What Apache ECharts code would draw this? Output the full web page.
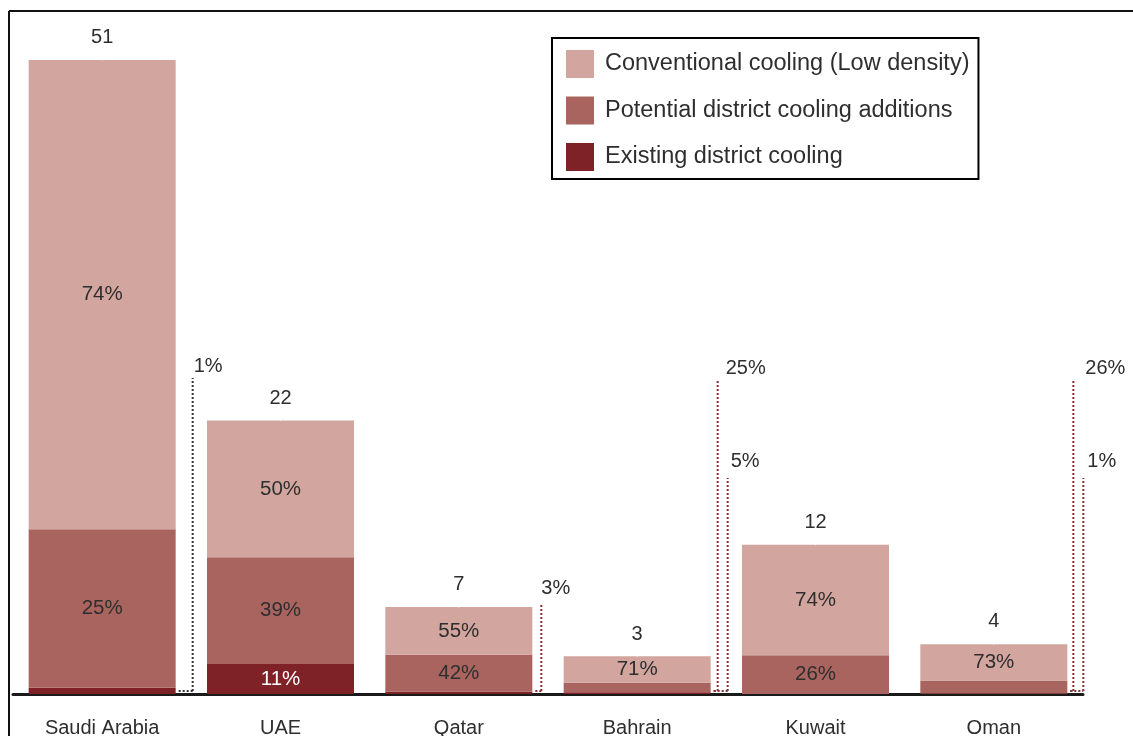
<!DOCTYPE html>
<html>
<head>
<meta charset="utf-8">
<script src="https://cdn.jsdelivr.net/npm/echarts@6/dist/echarts.min.js"></script>
<style>
  html, body { margin: 0; padding: 0; background: #fff; }
  #chart { width: 1133px; height: 736px; }
</style>
</head>
<body>
<div id="chart"></div>
<script>
// Cooling demand by country, with the split between cooling types (shares in %)
const countries = ['Saudi Arabia', 'UAE', 'Qatar', 'Bahrain', 'Kuwait', 'Oman'];
const totals = [51, 22, 7, 3, 12, 4];
const conventionalShare = [74, 50, 55, 71, 74, 73];
const potentialShare = [25, 39, 42, 25, 26, 26];
const existingShare = [1, 11, 3, 5, 0, 1];

const seriesNames = {
  conventional: 'Conventional cooling (Low density)',
  potential: 'Potential district cooling additions',
  existing: 'Existing district cooling'
};

// Segments too thin to hold their share label get a dotted leader line instead
const leaders = [
  { cat: 0, key: 'existing' },
  { cat: 2, key: 'existing' },
  { cat: 3, key: 'potential' },
  { cat: 3, key: 'existing' },
  { cat: 5, key: 'potential' },
  { cat: 5, key: 'existing' }
];

// ---- styling / layout ----
const FONT = '"Liberation Sans", Arial, Helvetica, sans-serif';
const TEXT = '#2e2e2e';
const COLORS = { conventional: '#d2a59f', potential: '#a9645f', existing: '#7f2227' };
const BAR_WIDTH = 147;
const leaderLayout = [
  { dx: 17, rise: 316, labelDx: 1, labelDy: 12, color: '#333333' },
  { dx: 9, rise: 89, labelDx: 0, labelDy: 17, color: '#8a2f33' },
  { dx: 7, rise: 314, labelDx: 8, labelDy: 12, color: '#8a2f33' },
  { dx: 17, rise: 216, labelDx: 3, labelDy: 17, color: '#8a2f33' },
  { dx: 6, rise: 314, labelDx: 12, labelDy: 12, color: '#8a2f33' },
  { dx: 16, rise: 216, labelDx: 4, labelDy: 17, color: '#8a2f33' }
];

const shares = { conventional: conventionalShare, potential: potentialShare, existing: existingShare };

function segmentData(key) {
  return totals.map((t, i) => {
    const v = t * shares[key][i] / 100;
    return {
      value: v,
      share: shares[key][i],
      label: {
        show: v >= 2,
        color: key === 'existing' ? '#ffffff' : TEXT
      }
    };
  });
}

function barSeries(key) {
  return {
    name: seriesNames[key],
    type: 'bar',
    stack: 'total',
    barWidth: BAR_WIDTH,
    silent: true,
    itemStyle: { color: COLORS[key] },
    label: {
      position: 'inside',
      fontFamily: FONT,
      fontSize: 20.5,
      formatter: p => p.data.share + '%'
    },
    data: segmentData(key)
  };
}

const chart = echarts.init(document.getElementById('chart'));

chart.setOption({
  animation: false,
  backgroundColor: '#ffffff',
  textStyle: { fontFamily: FONT },
  grid: { left: 13, right: 50, top: 60, bottom: 42, containLabel: false, outerBoundsMode: 'none' },
  legend: {
    data: [seriesNames.conventional, seriesNames.potential, seriesNames.existing],
    orient: 'vertical',
    left: 552,
    top: 38,
    icon: 'rect',
    itemWidth: 28,
    itemHeight: 28,
    itemGap: 18.5,
    padding: [12, 9, 8, 14],
    borderColor: '#000000',
    borderWidth: 2,
    selectedMode: false,
    textStyle: { fontFamily: FONT, fontSize: 23.5, color: TEXT, padding: [3, 0, 0, 6] }
  },
  xAxis: {
    type: 'category',
    data: countries,
    axisLine: { lineStyle: { color: '#1a1a1a', width: 3 } },
    axisTick: { show: false },
    axisLabel: { fontFamily: FONT, fontSize: 20, color: TEXT, margin: 24 }
  },
  yAxis: { type: 'value', min: 0, max: 51, show: false, splitLine: { show: false } },
  graphic: [
    { type: 'line', shape: { x1: 9, y1: 11, x2: 1133, y2: 11 }, style: { stroke: '#111', lineWidth: 2 } },
    { type: 'line', shape: { x1: 9, y1: 11, x2: 9, y2: 736 }, style: { stroke: '#111', lineWidth: 2 } }
  ],
  series: [
    barSeries('existing'),
    barSeries('potential'),
    barSeries('conventional'),
    {
      // bar totals above each stack
      type: 'scatter',
      silent: true,
      symbolSize: 1,
      itemStyle: { color: '#ffffff', opacity: 1 },
      label: {
        show: true,
        position: 'top',
        distance: 12,
        fontFamily: FONT,
        fontSize: 20,
        color: TEXT,
        opacity: 1,
        formatter: p => String(p.value[1])
      },
      data: totals.map((t, i) => [i, t])
    },
    {
      // dotted leader lines for thin segments
      type: 'custom',
      silent: true,
      data: leaders.map(l => [l.cat, 0]),
      encode: { x: 0, y: 1 },
      renderItem: (params, api) => {
        const l = leaders[params.dataIndex];
        const lay = leaderLayout[params.dataIndex];
        const base = api.coord([api.value(0), 0]);
        const barRight = base[0] + BAR_WIDTH / 2;
        const x = barRight + lay.dx;
        const y0 = base[1] - 3;
        const yTop = base[1] - lay.rise;
        const dotted = { stroke: lay.color, lineWidth: 2, lineDash: [2, 2] };
        return {
          type: 'group',
          children: [
            { type: 'line', shape: { x1: x, y1: y0, x2: x, y2: yTop }, style: dotted },
            { type: 'line', shape: { x1: barRight + 3, y1: y0, x2: x, y2: y0 }, style: dotted },
            {
              type: 'text',
              x: x + lay.labelDx,
              y: yTop - lay.labelDy,
              style: {
                text: shares[l.key][l.cat] + '%',
                fontFamily: FONT,
                fontSize: 20,
                fill: TEXT,
                align: 'left',
                verticalAlign: 'middle'
              }
            }
          ]
        };
      }
    }
  ]
});
</script>
</body>
</html>
